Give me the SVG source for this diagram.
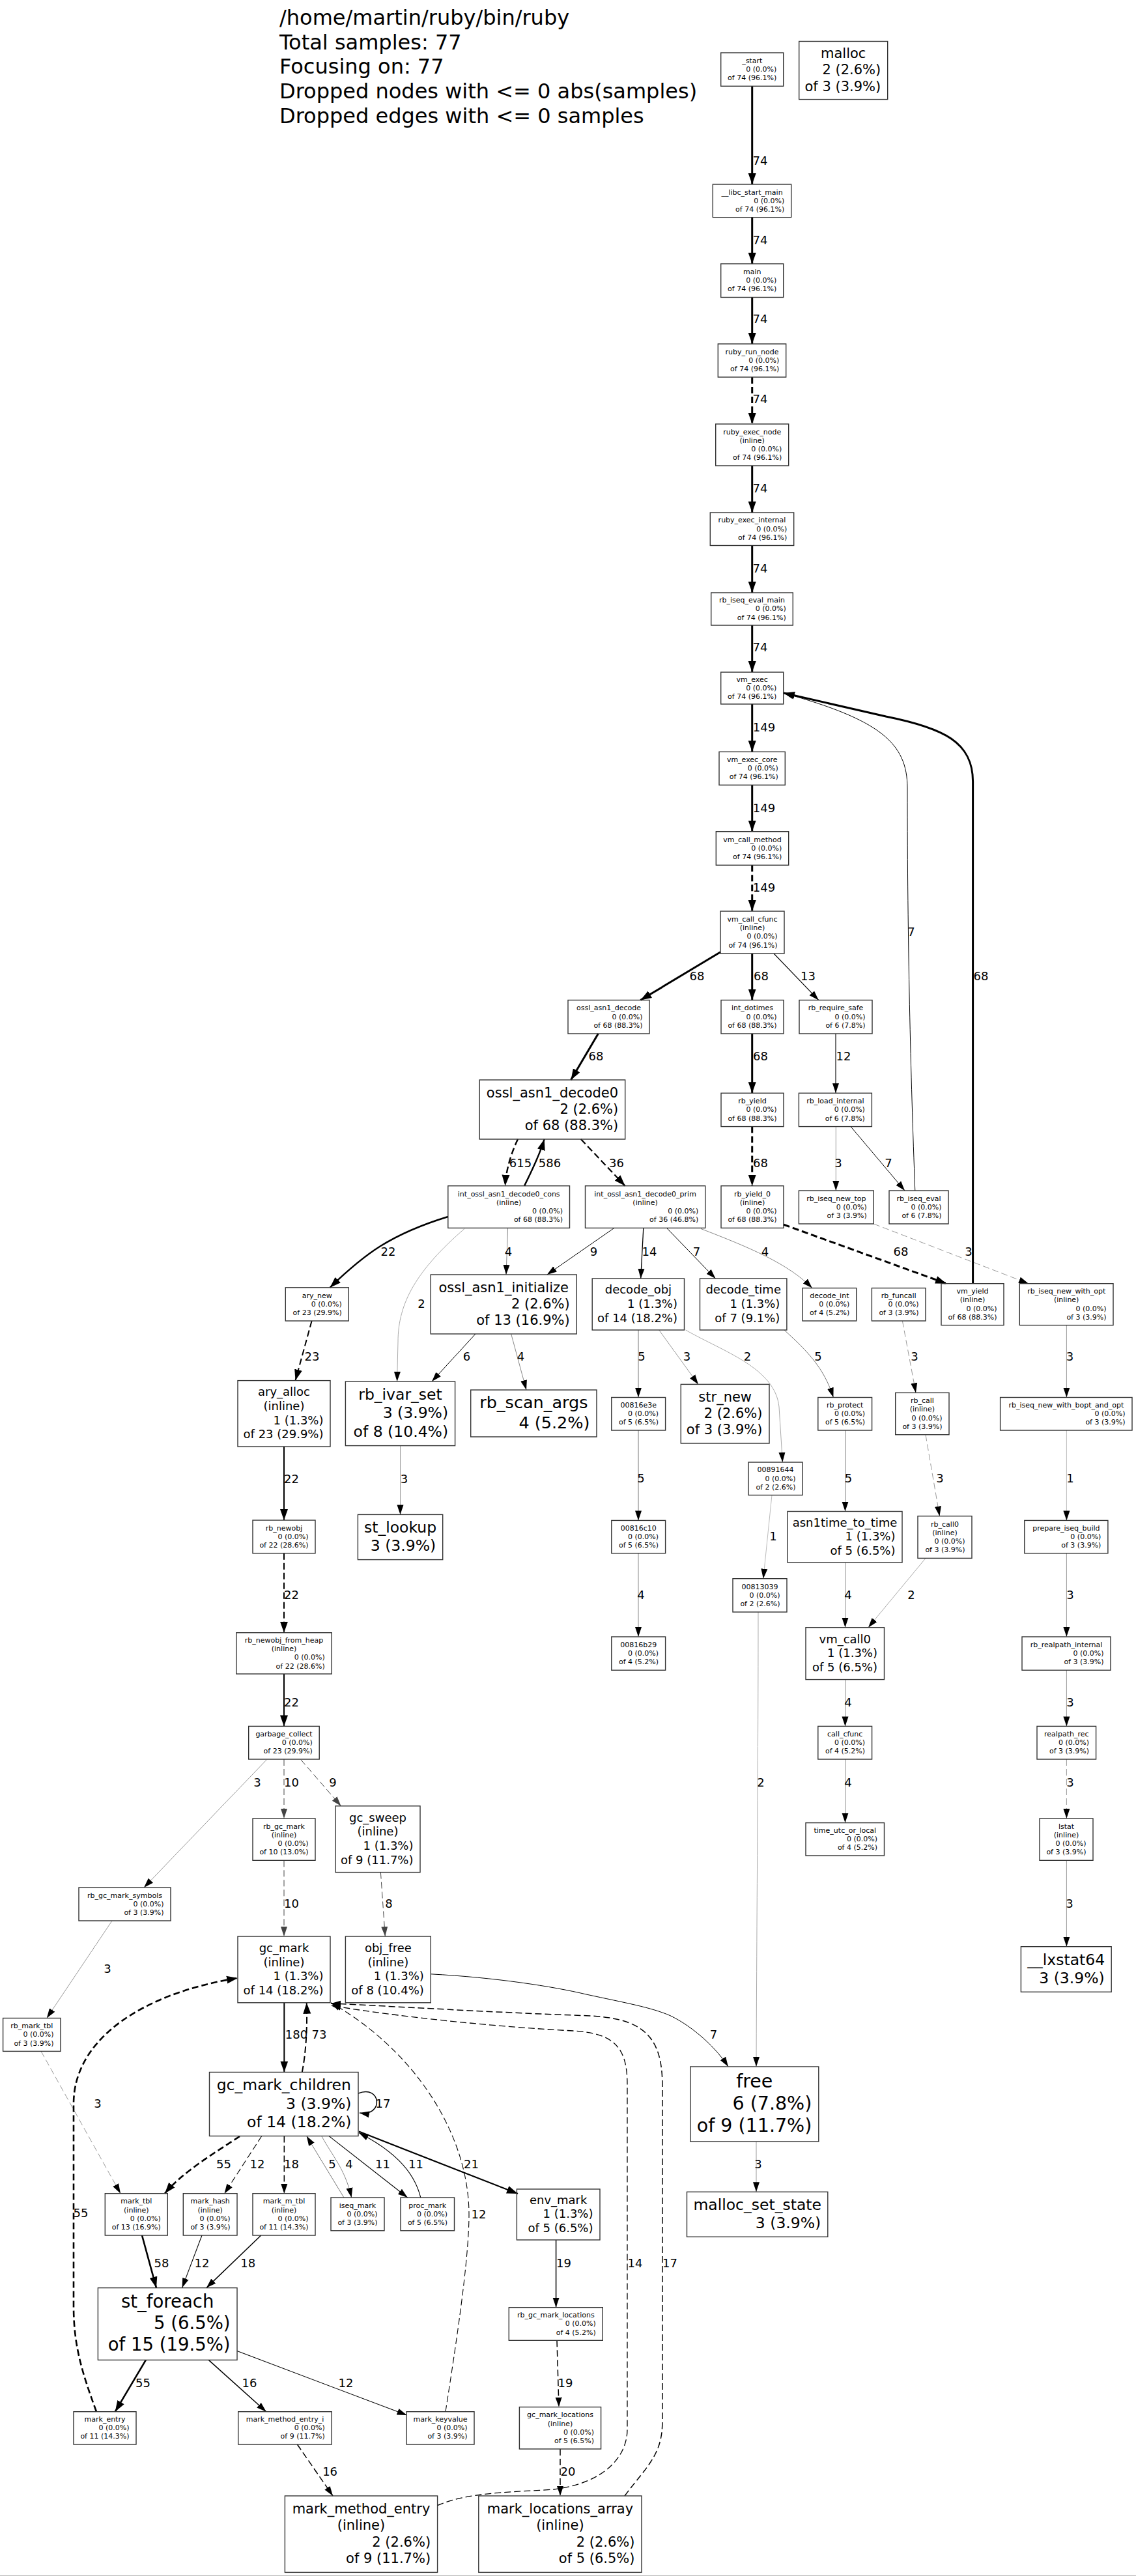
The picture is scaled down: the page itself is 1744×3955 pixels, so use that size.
<svg xmlns="http://www.w3.org/2000/svg" width="1744" height="3955" viewBox="0 0 1744 3955">
<style>
text{font-family:"DejaVu Sans",Verdana,sans-serif;fill:#000}
.n rect{fill:none;stroke:#333;stroke-width:1.4}
.f0{font-size:11px}.f1{font-size:18px}.f2{font-size:21px}.f3{font-size:23.5px}.f4{font-size:25.5px}.f5{font-size:27.5px}.f6{font-size:28.5px}
.c{text-anchor:middle}.r{text-anchor:end}
.lg{font-size:32px}
.el{font-size:18px;text-anchor:middle}
#edges path{fill:none}
.d{stroke-dasharray:10,5}
</style>
<defs>
<marker id="mB" markerUnits="userSpaceOnUse" viewBox="0 0 18 14" markerWidth="18" markerHeight="14" refX="17" refY="7" orient="auto"><path d="M0,1L17,7L0,13z" fill="#000"/></marker>
<marker id="mK" markerUnits="userSpaceOnUse" viewBox="0 0 16 12" markerWidth="16" markerHeight="12" refX="15" refY="6" orient="auto"><path d="M0,1L15,6L0,11z" fill="#000"/></marker>
<marker id="m4" markerUnits="userSpaceOnUse" viewBox="0 0 16 12" markerWidth="16" markerHeight="12" refX="15" refY="6" orient="auto"><path d="M0,1L15,6L0,11z" fill="#444"/></marker>
<marker id="m7" markerUnits="userSpaceOnUse" viewBox="0 0 16 12" markerWidth="16" markerHeight="12" refX="15" refY="6" orient="auto"><path d="M0,1L15,6L0,11z" fill="#000"/></marker>
<marker id="m8" markerUnits="userSpaceOnUse" viewBox="0 0 16 12" markerWidth="16" markerHeight="12" refX="15" refY="6" orient="auto"><path d="M0,1L15,6L0,11z" fill="#000"/></marker>
<marker id="m9" markerUnits="userSpaceOnUse" viewBox="0 0 16 12" markerWidth="16" markerHeight="12" refX="15" refY="6" orient="auto"><path d="M0,1L15,6L0,11z" fill="#000"/></marker>
</defs>
<rect width="1744" height="3955" fill="#fff"/>
<line x1="0" y1="3954.5" x2="1744" y2="3954.5" stroke="#bbb" stroke-width="1"/>
<g id="legend">
<text class="lg" x="429" y="38">/home/martin/ruby/bin/ruby</text>
<text class="lg" x="429" y="75.7">Total samples: 77</text>
<text class="lg" x="429" y="113.4">Focusing on: 77</text>
<text class="lg" x="429" y="151.1">Dropped nodes with &lt;= 0 abs(samples)</text>
<text class="lg" x="429" y="188.8">Dropped edges with &lt;= 0 samples</text>
</g>
<g id="edges">
<path d="M1154.7,132.3V283" stroke="#000" stroke-width="3" marker-end="url(#mB)"/>
<path d="M1154.7,333.7V405" stroke="#000" stroke-width="3" marker-end="url(#mB)"/>
<path d="M1154.7,456.5V528" stroke="#000" stroke-width="3" marker-end="url(#mB)"/>
<path class="d" d="M1154.7,579V651" stroke="#000" stroke-width="3" marker-end="url(#mB)"/>
<path d="M1154.7,715V787" stroke="#000" stroke-width="3" marker-end="url(#mB)"/>
<path d="M1154.7,837.5V910" stroke="#000" stroke-width="3" marker-end="url(#mB)"/>
<path d="M1154.7,960V1032" stroke="#000" stroke-width="3" marker-end="url(#mB)"/>
<path d="M1154.7,1081V1154.3" stroke="#000" stroke-width="3" marker-end="url(#mB)"/>
<path d="M1154.7,1205.3V1276.7" stroke="#000" stroke-width="3" marker-end="url(#mB)"/>
<path class="d" d="M1154.7,1328.3V1399" stroke="#000" stroke-width="3" marker-end="url(#mB)"/>
<path d="M1106,1461.7L983.3,1535.5" stroke="#000" stroke-width="3" marker-end="url(#mB)"/>
<path d="M1154.7,1464V1535.5" stroke="#000" stroke-width="3" marker-end="url(#mB)"/>
<path d="M1188,1464L1256.7,1535.5" stroke="#000" stroke-width="1.1" marker-end="url(#mK)"/>
<path d="M1493.6,1970.7V1200C1493.6,1140 1450,1118 1360,1100L1203,1064" stroke="#000" stroke-width="3" marker-end="url(#mB)"/>
<path d="M1404.8,1828C1398,1650 1393,1450 1393,1210C1393,1140 1350,1105 1203,1064" stroke="#000" stroke-width="1" marker-end="url(#mK)"/>
<path d="M918.4,1587L876.5,1658" stroke="#000" stroke-width="3" marker-end="url(#mB)"/>
<path d="M1154.7,1587V1678.3" stroke="#000" stroke-width="3" marker-end="url(#mB)"/>
<path d="M1283,1587V1678.3" stroke="#000" stroke-width="1.1" marker-end="url(#mK)"/>
<path class="d" d="M795,1749C785,1770 777,1795 775.5,1820.7" stroke="#000" stroke-width="2.4" marker-end="url(#mB)"/>
<path d="M805,1820.7C815,1800 828,1775 835.7,1749" stroke="#000" stroke-width="2.4" marker-end="url(#mB)"/>
<path class="d" d="M891.8,1749L959.7,1820.7" stroke="#000" stroke-width="2.2" marker-end="url(#mB)"/>
<path class="d" d="M1154.7,1729.6V1820.7" stroke="#000" stroke-width="3" marker-end="url(#mB)"/>
<path d="M1283.3,1729.6V1828" stroke="#999" stroke-width="1" marker-end="url(#m9)"/>
<path d="M1306,1729.6L1389,1828" stroke="#000" stroke-width="1" marker-end="url(#mK)"/>
<path class="d" d="M1202.7,1880L1453,1970.7" stroke="#000" stroke-width="3" marker-end="url(#mB)"/>
<path class="d" d="M1341.2,1879L1579,1970.7" stroke="#999" stroke-width="1" marker-end="url(#m9)"/>
<path d="M687.8,1868C600,1895 560,1925 506.6,1976.8" stroke="#000" stroke-width="2.4" marker-end="url(#mB)"/>
<path d="M779.6,1885.4L777,1957" stroke="#888" stroke-width="1" marker-end="url(#m8)"/>
<path d="M942.9,1885.4L839.8,1957" stroke="#000" stroke-width="1" marker-end="url(#mK)"/>
<path d="M713,1886.5C640,1950 611,2000 611,2060L609.6,2121" stroke="#aaa" stroke-width="1" marker-end="url(#m9)"/>
<path d="M987.8,1885.4L983.7,1963" stroke="#000" stroke-width="1.3" marker-end="url(#mK)"/>
<path d="M1023.5,1885.4L1098.5,1963" stroke="#000" stroke-width="1" marker-end="url(#mK)"/>
<path d="M1076,1886.5C1150,1915 1210,1940 1246.8,1977.6" stroke="#888" stroke-width="1" marker-end="url(#m8)"/>
<path class="d" d="M478.6,2028L453.5,2119.6" stroke="#000" stroke-width="2" marker-end="url(#mB)"/>
<path d="M730,2048L663,2121" stroke="#000" stroke-width="1" marker-end="url(#mK)"/>
<path d="M784.7,2048L808,2134" stroke="#888" stroke-width="1" marker-end="url(#m8)"/>
<path d="M980,2042V2145.5" stroke="#777" stroke-width="1" marker-end="url(#m7)"/>
<path d="M1011.7,2042L1072,2125.4" stroke="#999" stroke-width="1" marker-end="url(#m9)"/>
<path d="M1052.6,2042C1110,2075 1190,2100 1196,2160L1201.4,2245" stroke="#aaa" stroke-width="1" marker-end="url(#m9)"/>
<path d="M1204,2042C1240,2075 1265,2100 1279.4,2145.5" stroke="#777" stroke-width="1" marker-end="url(#m7)"/>
<path class="d" d="M1385.4,2028L1406,2138.4" stroke="#999" stroke-width="1" marker-end="url(#m9)"/>
<path d="M1637.4,2034.6V2145.5" stroke="#999" stroke-width="1" marker-end="url(#m9)"/>
<path d="M436,2221V2334" stroke="#000" stroke-width="2" marker-end="url(#mB)"/>
<path d="M614.5,2219.6V2325.4" stroke="#999" stroke-width="1" marker-end="url(#m9)"/>
<path d="M980,2196V2334.4" stroke="#777" stroke-width="1" marker-end="url(#m7)"/>
<path d="M1297.5,2196V2320.5" stroke="#777" stroke-width="1" marker-end="url(#m7)"/>
<path class="d" d="M1421,2202.7L1442.5,2327.7" stroke="#999" stroke-width="1" marker-end="url(#m9)"/>
<path d="M1637.4,2196V2334.4" stroke="#bbb" stroke-width="1" marker-end="url(#m9)"/>
<path d="M1185,2295.5L1171.8,2423.7" stroke="#bbb" stroke-width="1" marker-end="url(#m9)"/>
<path class="d" d="M436,2384.8V2506.7" stroke="#000" stroke-width="2" marker-end="url(#mB)"/>
<path d="M980,2384.8V2513" stroke="#888" stroke-width="1" marker-end="url(#m8)"/>
<path d="M1297.5,2399V2498.7" stroke="#888" stroke-width="1" marker-end="url(#m8)"/>
<path d="M1421,2392.4L1333,2498.7" stroke="#aaa" stroke-width="1" marker-end="url(#m9)"/>
<path d="M1637.4,2384.8V2513" stroke="#999" stroke-width="1" marker-end="url(#m9)"/>
<path d="M436,2570V2650.4" stroke="#000" stroke-width="2" marker-end="url(#mB)"/>
<path d="M1297.5,2578.6V2650.4" stroke="#888" stroke-width="1" marker-end="url(#m8)"/>
<path d="M1637.4,2564.3V2650.4" stroke="#999" stroke-width="1" marker-end="url(#m9)"/>
<path d="M1164,2475C1164,2700 1162,2900 1161,3173" stroke="#aaa" stroke-width="1" marker-end="url(#m9)"/>
<path d="M409.3,2701.8L221,2898" stroke="#999" stroke-width="1" marker-end="url(#m9)"/>
<path class="d" d="M436,2701V2792" stroke="#444" stroke-width="1" marker-end="url(#m4)"/>
<path class="d" d="M462,2701.8L523.5,2772.8" stroke="#444" stroke-width="1" marker-end="url(#m4)"/>
<path d="M1297.5,2701V2798.6" stroke="#888" stroke-width="1" marker-end="url(#m8)"/>
<path class="d" d="M1637.4,2701V2792" stroke="#999" stroke-width="1" marker-end="url(#m9)"/>
<path class="d" d="M436,2856.3V2973" stroke="#444" stroke-width="1" marker-end="url(#m4)"/>
<path class="d" d="M584.4,2874.6L591.3,2973" stroke="#444" stroke-width="1" marker-end="url(#m4)"/>
<path d="M1637.4,2856.3V2988.7" stroke="#999" stroke-width="1" marker-end="url(#m9)"/>
<path d="M172,2949L71.8,3098.5" stroke="#999" stroke-width="1" marker-end="url(#m9)"/>
<path d="M436.3,3074.8V3181.5" stroke="#000" stroke-width="2" marker-end="url(#mB)"/>
<path class="d" d="M463.8,3181.5C470,3150 472,3110 470.7,3074.8" stroke="#000" stroke-width="2" marker-end="url(#mB)"/>
<path d="M661.3,3030.8C760,3036 850,3050 900,3062C960,3075 1000,3082 1029,3094.7C1065,3112 1100,3145 1118,3173" stroke="#000" stroke-width="1" marker-end="url(#mK)"/>
<path class="d" d="M63,3149.4L185,3367.7" stroke="#999" stroke-width="1" marker-end="url(#m9)"/>
<path d="M550,3214C585,3200 590,3250 552,3244" stroke="#000" stroke-width="1.5" marker-end="url(#mK)"/>
<path class="d" d="M368,3280C330,3305 280,3335 253,3367.7" stroke="#000" stroke-width="2.6" marker-end="url(#mB)"/>
<path class="d" d="M401.8,3279.5L344.4,3368" stroke="#000" stroke-width="1.1" marker-end="url(#mK)"/>
<path class="d" d="M436.3,3279.5V3368" stroke="#000" stroke-width="1.5" marker-end="url(#mK)"/>
<path d="M528,3374L470.7,3279.5" stroke="#777" stroke-width="1" marker-end="url(#m7)"/>
<path d="M493.7,3279.5C510,3310 530,3330 539.6,3374" stroke="#888" stroke-width="1" marker-end="url(#m8)"/>
<path d="M505,3279.5L625.7,3374" stroke="#000" stroke-width="1.1" marker-end="url(#mK)"/>
<path d="M645.8,3374C635,3330 600,3300 551,3274.6" stroke="#000" stroke-width="1.1" marker-end="url(#mK)"/>
<path d="M551,3272.6L795,3368" stroke="#000" stroke-width="2.2" marker-end="url(#mB)"/>
<path class="d" d="M148,3702.7C125,3640 113,3600 113,3540L113,3230C113,3130 220,3060 365,3037" stroke="#000" stroke-width="2.6" marker-end="url(#mB)"/>
<path class="d" d="M684,3702.7C700,3600 720,3470 720,3400C720,3280 640,3150 508,3074.8" stroke="#000" stroke-width="1.1" marker-end="url(#mK)"/>
<path class="d" d="M671.6,3846.7C720,3825 800,3826 850,3822C930,3812 963,3770 963,3730L963,3200C963,3140 940,3122 880,3118C760,3112 600,3095 508,3079" stroke="#000" stroke-width="1.3" marker-end="url(#mK)"/>
<path class="d" d="M959,3832C990,3790 1016.8,3770 1016.8,3720L1016.8,3200C1016.8,3120 980,3098 900,3094.7C760,3090 600,3080 508,3076" stroke="#000" stroke-width="1.5" marker-end="url(#mK)"/>
<path d="M1161,3288V3365.3" stroke="#999" stroke-width="1" marker-end="url(#m9)"/>
<path d="M853.6,3439V3542.7" stroke="#000" stroke-width="1.5" marker-end="url(#mK)"/>
<path class="d" d="M855,3593.3L858,3695.6" stroke="#000" stroke-width="1.5" marker-end="url(#mK)"/>
<path class="d" d="M860,3760V3832" stroke="#000" stroke-width="1.5" marker-end="url(#mK)"/>
<path d="M218,3432L240,3512.6" stroke="#000" stroke-width="2.6" marker-end="url(#mB)"/>
<path d="M310,3432L279.6,3512.6" stroke="#000" stroke-width="1.1" marker-end="url(#mK)"/>
<path d="M400.7,3432L316.9,3512.6" stroke="#000" stroke-width="1.5" marker-end="url(#mK)"/>
<path d="M223.9,3623.4L176.8,3702.7" stroke="#000" stroke-width="2.6" marker-end="url(#mB)"/>
<path d="M320.3,3623.4L408.7,3702.7" stroke="#000" stroke-width="1.5" marker-end="url(#mK)"/>
<path d="M364,3609.6L624.6,3708" stroke="#000" stroke-width="1.1" marker-end="url(#mK)"/>
<path class="d" d="M456.4,3753L511,3832" stroke="#000" stroke-width="1.5" marker-end="url(#mK)"/>
<g id="edge-labels">
<text class="el" x="1167" y="252.5">74</text>
<text class="el" x="1167" y="375">74</text>
<text class="el" x="1167" y="496">74</text>
<text class="el" x="1167" y="618.5">74</text>
<text class="el" x="1167" y="755.5">74</text>
<text class="el" x="1167" y="878.5">74</text>
<text class="el" x="1167" y="999.5">74</text>
<text class="el" x="1173" y="1123">149</text>
<text class="el" x="1173" y="1246.5">149</text>
<text class="el" x="1173" y="1369">149</text>
<text class="el" x="1070" y="1505">68</text>
<text class="el" x="1168.5" y="1505">68</text>
<text class="el" x="1240.5" y="1505">13</text>
<text class="el" x="1506" y="1505">68</text>
<text class="el" x="1399" y="1436.5">7</text>
<text class="el" x="915" y="1628">68</text>
<text class="el" x="1167.5" y="1628">68</text>
<text class="el" x="1295" y="1628">12</text>
<text class="el" x="799" y="1791.5">615</text>
<text class="el" x="844" y="1791.5">586</text>
<text class="el" x="946.5" y="1791.5">36</text>
<text class="el" x="1167.5" y="1791.5">68</text>
<text class="el" x="1287" y="1791.5">3</text>
<text class="el" x="1364" y="1791.5">7</text>
<text class="el" x="1383" y="1927.5">68</text>
<text class="el" x="1487" y="1927.5">3</text>
<text class="el" x="596" y="1927.5">22</text>
<text class="el" x="780.6" y="1927.5">4</text>
<text class="el" x="911.5" y="1927.5">9</text>
<text class="el" x="647" y="2008">2</text>
<text class="el" x="997" y="1927.5">14</text>
<text class="el" x="1069.5" y="1927.5">7</text>
<text class="el" x="1174.5" y="1927.5">4</text>
<text class="el" x="479" y="2089">23</text>
<text class="el" x="716.5" y="2089">6</text>
<text class="el" x="799.5" y="2089">4</text>
<text class="el" x="985" y="2089">5</text>
<text class="el" x="1054.6" y="2089">3</text>
<text class="el" x="1147.5" y="2089">2</text>
<text class="el" x="1256" y="2089">5</text>
<text class="el" x="1404" y="2089">3</text>
<text class="el" x="1642.5" y="2089">3</text>
<text class="el" x="447.5" y="2276.5">22</text>
<text class="el" x="620.5" y="2276.5">3</text>
<text class="el" x="984" y="2276">5</text>
<text class="el" x="1302.5" y="2276">5</text>
<text class="el" x="1443" y="2276">3</text>
<text class="el" x="1643" y="2276">1</text>
<text class="el" x="1187" y="2364.5">1</text>
<text class="el" x="447.5" y="2454.5">22</text>
<text class="el" x="984" y="2454.5">4</text>
<text class="el" x="1302" y="2454.5">4</text>
<text class="el" x="1399" y="2454.5">2</text>
<text class="el" x="1643" y="2454.5">3</text>
<text class="el" x="447.5" y="2619.5">22</text>
<text class="el" x="1302" y="2619.5">4</text>
<text class="el" x="1643" y="2619.5">3</text>
<text class="el" x="1168" y="2742.5">2</text>
<text class="el" x="395" y="2742.5">3</text>
<text class="el" x="447.5" y="2742.5">10</text>
<text class="el" x="511" y="2742.5">9</text>
<text class="el" x="1302" y="2742.5">4</text>
<text class="el" x="1643" y="2742.5">3</text>
<text class="el" x="447.5" y="2929">10</text>
<text class="el" x="597" y="2929">8</text>
<text class="el" x="1642" y="2929">3</text>
<text class="el" x="165" y="3028.5">3</text>
<text class="el" x="455" y="3130">180</text>
<text class="el" x="490" y="3130">73</text>
<text class="el" x="1095.5" y="3130">7</text>
<text class="el" x="150" y="3236">3</text>
<text class="el" x="588" y="3236">17</text>
<text class="el" x="343.5" y="3329">55</text>
<text class="el" x="395" y="3329">12</text>
<text class="el" x="447.5" y="3329">18</text>
<text class="el" x="510" y="3329">5</text>
<text class="el" x="536" y="3329">4</text>
<text class="el" x="587.5" y="3329">11</text>
<text class="el" x="638.5" y="3329">11</text>
<text class="el" x="723.5" y="3329">21</text>
<text class="el" x="124" y="3404">55</text>
<text class="el" x="735" y="3406">12</text>
<text class="el" x="975" y="3480.5">14</text>
<text class="el" x="1028.5" y="3480.5">17</text>
<text class="el" x="1164" y="3329">3</text>
<text class="el" x="865.5" y="3480.5">19</text>
<text class="el" x="868" y="3665">19</text>
<text class="el" x="872" y="3801">20</text>
<text class="el" x="248" y="3480.5">58</text>
<text class="el" x="310" y="3480.5">12</text>
<text class="el" x="380.7" y="3480.5">18</text>
<text class="el" x="219.5" y="3665">55</text>
<text class="el" x="383" y="3665">16</text>
<text class="el" x="531" y="3665">12</text>
<text class="el" x="506.6" y="3801">16</text>
</g>
</g>
<g id="nodes">
<g id="n_start" class="n"><rect x="1106.7" y="81" width="96" height="51.3"/><text class="f0 c" x="1154.7" y="96.8">_start</text><text class="f0 r" x="1192.2" y="110">0 (0.0%)</text><text class="f0 r" x="1192.2" y="123.2">of 74 (96.1%)</text></g>
<g id="n_malloc" class="n"><rect x="1226.7" y="63.5" width="136" height="89.1"/><text class="f2 c" x="1294.7" y="89.2">malloc</text><text class="f2 r" x="1352.2" y="114.4">2 (2.6%)</text><text class="f2 r" x="1352.2" y="139.6">of 3 (3.9%)</text></g>
<g id="n_libc" class="n"><rect x="1094.3" y="283" width="120.4" height="50.7"/><text class="f0 c" x="1154.5" y="298.5">__libc_start_main</text><text class="f0 r" x="1204.2" y="311.7">0 (0.0%)</text><text class="f0 r" x="1204.2" y="324.9">of 74 (96.1%)</text></g>
<g id="n_main" class="n"><rect x="1106.7" y="405" width="96" height="51.5"/><text class="f0 c" x="1154.7" y="420.9">main</text><text class="f0 r" x="1192.2" y="434.1">0 (0.0%)</text><text class="f0 r" x="1192.2" y="447.3">of 74 (96.1%)</text></g>
<g id="n_ruby_run_node" class="n"><rect x="1102.3" y="528" width="104.4" height="51"/><text class="f0 c" x="1154.5" y="543.6">ruby_run_node</text><text class="f0 r" x="1196.2" y="556.8">0 (0.0%)</text><text class="f0 r" x="1196.2" y="570">of 74 (96.1%)</text></g>
<g id="n_ruby_exec_node" class="n"><rect x="1098.7" y="651" width="112" height="64"/><text class="f0 c" x="1154.7" y="666.5">ruby_exec_node</text><text class="f0 c" x="1154.7" y="679.7">(inline)</text><text class="f0 r" x="1200.2" y="692.9">0 (0.0%)</text><text class="f0 r" x="1200.2" y="706.1">of 74 (96.1%)</text></g>
<g id="n_ruby_exec_internal" class="n"><rect x="1090.3" y="787" width="128.4" height="50.5"/><text class="f0 c" x="1154.5" y="802.4">ruby_exec_internal</text><text class="f0 r" x="1208.2" y="815.6">0 (0.0%)</text><text class="f0 r" x="1208.2" y="828.8">of 74 (96.1%)</text></g>
<g id="n_rb_iseq_eval_main" class="n"><rect x="1091.7" y="910" width="125.6" height="50"/><text class="f0 c" x="1154.5" y="925.1">rb_iseq_eval_main</text><text class="f0 r" x="1206.8" y="938.3">0 (0.0%)</text><text class="f0 r" x="1206.8" y="951.5">of 74 (96.1%)</text></g>
<g id="n_vm_exec" class="n"><rect x="1106.7" y="1032" width="96" height="49"/><text class="f0 c" x="1154.7" y="1046.6">vm_exec</text><text class="f0 r" x="1192.2" y="1059.8">0 (0.0%)</text><text class="f0 r" x="1192.2" y="1073">of 74 (96.1%)</text></g>
<g id="n_vm_exec_core" class="n"><rect x="1104" y="1154.3" width="101.3" height="51"/><text class="f0 c" x="1154.7" y="1169.9">vm_exec_core</text><text class="f0 r" x="1194.8" y="1183.1">0 (0.0%)</text><text class="f0 r" x="1194.8" y="1196.3">of 74 (96.1%)</text></g>
<g id="n_vm_call_method" class="n"><rect x="1099.3" y="1276.7" width="111.4" height="51.6"/><text class="f0 c" x="1155" y="1292.6">vm_call_method</text><text class="f0 r" x="1200.2" y="1305.8">0 (0.0%)</text><text class="f0 r" x="1200.2" y="1319">of 74 (96.1%)</text></g>
<g id="n_vm_call_cfunc" class="n"><rect x="1106" y="1399" width="98" height="65"/><text class="f0 c" x="1155" y="1415">vm_call_cfunc</text><text class="f0 c" x="1155" y="1428.2">(inline)</text><text class="f0 r" x="1193.5" y="1441.4">0 (0.0%)</text><text class="f0 r" x="1193.5" y="1454.6">of 74 (96.1%)</text></g>
<g id="n_ossl_asn1_decode" class="n"><rect x="872" y="1535.5" width="125" height="51.5"/><text class="f0 c" x="934.5" y="1551.4">ossl_asn1_decode</text><text class="f0 r" x="986.5" y="1564.6">0 (0.0%)</text><text class="f0 r" x="986.5" y="1577.8">of 68 (88.3%)</text></g>
<g id="n_int_dotimes" class="n"><rect x="1107" y="1535.5" width="96" height="51.5"/><text class="f0 c" x="1155" y="1551.4">int_dotimes</text><text class="f0 r" x="1192.5" y="1564.6">0 (0.0%)</text><text class="f0 r" x="1192.5" y="1577.8">of 68 (88.3%)</text></g>
<g id="n_rb_require_safe" class="n"><rect x="1227" y="1535.5" width="112" height="51.5"/><text class="f0 c" x="1283" y="1551.4">rb_require_safe</text><text class="f0 r" x="1328.5" y="1564.6">0 (0.0%)</text><text class="f0 r" x="1328.5" y="1577.8">of 6 (7.8%)</text></g>
<g id="n_ossl_asn1_decode0" class="n"><rect x="736.2" y="1658" width="223.5" height="91"/><text class="f2 c" x="848" y="1684.6">ossl_asn1_decode0</text><text class="f2 r" x="949.2" y="1709.8">2 (2.6%)</text><text class="f2 r" x="949.2" y="1735">of 68 (88.3%)</text></g>
<g id="n_rb_yield" class="n"><rect x="1107" y="1678.3" width="96" height="51.3"/><text class="f0 c" x="1155" y="1694.1">rb_yield</text><text class="f0 r" x="1192.5" y="1707.3">0 (0.0%)</text><text class="f0 r" x="1192.5" y="1720.5">of 68 (88.3%)</text></g>
<g id="n_rb_load_internal" class="n"><rect x="1226.4" y="1678.3" width="112" height="51.3"/><text class="f0 c" x="1282.4" y="1694.1">rb_load_internal</text><text class="f0 r" x="1327.9" y="1707.3">0 (0.0%)</text><text class="f0 r" x="1327.9" y="1720.5">of 6 (7.8%)</text></g>
<g id="n_decode0_cons" class="n"><rect x="687.8" y="1820.7" width="186.7" height="64.7"/><text class="f0 c" x="781.2" y="1836.6">int_ossl_asn1_decode0_cons</text><text class="f0 c" x="781.2" y="1849.8">(inline)</text><text class="f0 r" x="864" y="1863">0 (0.0%)</text><text class="f0 r" x="864" y="1876.2">of 68 (88.3%)</text></g>
<g id="n_decode0_prim" class="n"><rect x="898.5" y="1820.7" width="184.2" height="64.7"/><text class="f0 c" x="990.6" y="1836.6">int_ossl_asn1_decode0_prim</text><text class="f0 c" x="990.6" y="1849.8">(inline)</text><text class="f0 r" x="1072.2" y="1863">0 (0.0%)</text><text class="f0 r" x="1072.2" y="1876.2">of 36 (46.8%)</text></g>
<g id="n_rb_yield_0" class="n"><rect x="1107" y="1820.7" width="96" height="64.7"/><text class="f0 c" x="1155" y="1836.6">rb_yield_0</text><text class="f0 c" x="1155" y="1849.8">(inline)</text><text class="f0 r" x="1192.5" y="1863">0 (0.0%)</text><text class="f0 r" x="1192.5" y="1876.2">of 68 (88.3%)</text></g>
<g id="n_rb_iseq_new_top" class="n"><rect x="1226.4" y="1828" width="114.8" height="51"/><text class="f0 c" x="1283.8" y="1843.6">rb_iseq_new_top</text><text class="f0 r" x="1330.7" y="1856.8">0 (0.0%)</text><text class="f0 r" x="1330.7" y="1870">of 3 (3.9%)</text></g>
<g id="n_rb_iseq_eval" class="n"><rect x="1365" y="1828" width="91" height="51"/><text class="f0 c" x="1410.5" y="1843.6">rb_iseq_eval</text><text class="f0 r" x="1445.5" y="1856.8">0 (0.0%)</text><text class="f0 r" x="1445.5" y="1870">of 6 (7.8%)</text></g>
<g id="n_ary_new" class="n"><rect x="438.3" y="1976.8" width="96.9" height="51.2"/><text class="f0 c" x="486.8" y="1992.5">ary_new</text><text class="f0 r" x="524.7" y="2005.7">0 (0.0%)</text><text class="f0 r" x="524.7" y="2018.9">of 23 (29.9%)</text></g>
<g id="n_ossl_asn1_initialize" class="n"><rect x="661.2" y="1957" width="224" height="91"/><text class="f2 c" x="773.2" y="1983.6">ossl_asn1_initialize</text><text class="f2 r" x="874.7" y="2008.8">2 (2.6%)</text><text class="f2 r" x="874.7" y="2034">of 13 (16.9%)</text></g>
<g id="n_decode_obj" class="n"><rect x="909.2" y="1963" width="141.3" height="79"/><text class="f1 c" x="979.9" y="1986.3">decode_obj</text><text class="f1 r" x="1040" y="2007.9">1 (1.3%)</text><text class="f1 r" x="1040" y="2029.5">of 14 (18.2%)</text></g>
<g id="n_decode_time" class="n"><rect x="1074.5" y="1963" width="133.4" height="79"/><text class="f1 c" x="1141.2" y="1986.3">decode_time</text><text class="f1 r" x="1197.4" y="2007.9">1 (1.3%)</text><text class="f1 r" x="1197.4" y="2029.5">of 7 (9.1%)</text></g>
<g id="n_decode_int" class="n"><rect x="1232" y="1977.6" width="82.7" height="50.4"/><text class="f0 c" x="1273.4" y="1992.9">decode_int</text><text class="f0 r" x="1304.2" y="2006.1">0 (0.0%)</text><text class="f0 r" x="1304.2" y="2019.3">of 4 (5.2%)</text></g>
<g id="n_rb_funcall" class="n"><rect x="1338.4" y="1977.6" width="82.6" height="50.4"/><text class="f0 c" x="1379.7" y="1992.9">rb_funcall</text><text class="f0 r" x="1410.5" y="2006.1">0 (0.0%)</text><text class="f0 r" x="1410.5" y="2019.3">of 3 (3.9%)</text></g>
<g id="n_vm_yield" class="n"><rect x="1445" y="1970.7" width="96" height="63.9"/><text class="f0 c" x="1493" y="1986.2">vm_yield</text><text class="f0 c" x="1493" y="1999.4">(inline)</text><text class="f0 r" x="1530.5" y="2012.6">0 (0.0%)</text><text class="f0 r" x="1530.5" y="2025.8">of 68 (88.3%)</text></g>
<g id="n_rb_iseq_new_with_opt" class="n"><rect x="1565.3" y="1970.7" width="143.7" height="63.9"/><text class="f0 c" x="1637.2" y="1986.2">rb_iseq_new_with_opt</text><text class="f0 c" x="1637.2" y="1999.4">(inline)</text><text class="f0 r" x="1698.5" y="2012.6">0 (0.0%)</text><text class="f0 r" x="1698.5" y="2025.8">of 3 (3.9%)</text></g>
<g id="n_ary_alloc" class="n"><rect x="365" y="2119.6" width="142" height="101.4"/><text class="f1 c" x="436" y="2143.3">ary_alloc</text><text class="f1 c" x="436" y="2164.9">(inline)</text><text class="f1 r" x="496.5" y="2186.5">1 (1.3%)</text><text class="f1 r" x="496.5" y="2208.1">of 23 (29.9%)</text></g>
<g id="n_rb_ivar_set" class="n"><rect x="530.4" y="2121" width="168.2" height="98.6"/><text class="f3 c" x="614.5" y="2149.2">rb_ivar_set</text><text class="f3 r" x="688.1" y="2177.4">3 (3.9%)</text><text class="f3 r" x="688.1" y="2205.6">of 8 (10.4%)</text></g>
<g id="n_rb_scan_args" class="n"><rect x="722.7" y="2134" width="193.3" height="72"/><text class="f4 c" x="819.4" y="2162.4">rb_scan_args</text><text class="f4 r" x="905.5" y="2193">4 (5.2%)</text></g>
<g id="n_00816e3e" class="n"><rect x="938.8" y="2145.5" width="82.8" height="50.5"/><text class="f0 c" x="980.2" y="2160.9">00816e3e</text><text class="f0 r" x="1011.1" y="2174.1">0 (0.0%)</text><text class="f0 r" x="1011.1" y="2187.3">of 5 (6.5%)</text></g>
<g id="n_str_new" class="n"><rect x="1045.3" y="2125.4" width="135.7" height="90.6"/><text class="f2 c" x="1113.2" y="2151.8">str_new</text><text class="f2 r" x="1170.5" y="2177">2 (2.6%)</text><text class="f2 r" x="1170.5" y="2202.2">of 3 (3.9%)</text></g>
<g id="n_rb_protect" class="n"><rect x="1255.8" y="2145.5" width="82.8" height="50.5"/><text class="f0 c" x="1297.2" y="2160.9">rb_protect</text><text class="f0 r" x="1328.1" y="2174.1">0 (0.0%)</text><text class="f0 r" x="1328.1" y="2187.3">of 5 (6.5%)</text></g>
<g id="n_rb_call" class="n"><rect x="1374.7" y="2138.4" width="82.3" height="64.3"/><text class="f0 c" x="1415.9" y="2154.1">rb_call</text><text class="f0 c" x="1415.9" y="2167.3">(inline)</text><text class="f0 r" x="1446.5" y="2180.5">0 (0.0%)</text><text class="f0 r" x="1446.5" y="2193.7">of 3 (3.9%)</text></g>
<g id="n_rb_iseq_new_with_bopt_and_opt" class="n"><rect x="1535.6" y="2145.5" width="202.4" height="50.5"/><text class="f0 c" x="1636.8" y="2160.9">rb_iseq_new_with_bopt_and_opt</text><text class="f0 r" x="1727.5" y="2174.1">0 (0.0%)</text><text class="f0 r" x="1727.5" y="2187.3">of 3 (3.9%)</text></g>
<g id="n_00891644" class="n"><rect x="1149" y="2245" width="83" height="50.5"/><text class="f0 c" x="1190.5" y="2260.4">00891644</text><text class="f0 r" x="1221.5" y="2273.6">0 (0.0%)</text><text class="f0 r" x="1221.5" y="2286.8">of 2 (2.6%)</text></g>
<g id="n_rb_newobj" class="n"><rect x="388" y="2334" width="96" height="50.8"/><text class="f0 c" x="436" y="2349.5">rb_newobj</text><text class="f0 r" x="473.5" y="2362.7">0 (0.0%)</text><text class="f0 r" x="473.5" y="2375.9">of 22 (28.6%)</text></g>
<g id="n_st_lookup" class="n"><rect x="549.4" y="2325.4" width="130.3" height="69.2"/><text class="f3 c" x="614.6" y="2353">st_lookup</text><text class="f3 r" x="669.2" y="2381.2">3 (3.9%)</text></g>
<g id="n_00816c10" class="n"><rect x="938.8" y="2334.4" width="82.8" height="50.4"/><text class="f0 c" x="980.2" y="2349.7">00816c10</text><text class="f0 r" x="1011.1" y="2362.9">0 (0.0%)</text><text class="f0 r" x="1011.1" y="2376.1">of 5 (6.5%)</text></g>
<g id="n_asn1time_to_time" class="n"><rect x="1209" y="2320.5" width="176" height="78.5"/><text class="f1 c" x="1297" y="2343.6">asn1time_to_time</text><text class="f1 r" x="1374.5" y="2365.2">1 (1.3%)</text><text class="f1 r" x="1374.5" y="2386.8">of 5 (6.5%)</text></g>
<g id="n_rb_call0" class="n"><rect x="1409" y="2327.7" width="83" height="64.7"/><text class="f0 c" x="1450.5" y="2343.6">rb_call0</text><text class="f0 c" x="1450.5" y="2356.8">(inline)</text><text class="f0 r" x="1481.5" y="2370">0 (0.0%)</text><text class="f0 r" x="1481.5" y="2383.2">of 3 (3.9%)</text></g>
<g id="n_prepare_iseq_build" class="n"><rect x="1572.8" y="2334.4" width="128.1" height="50.4"/><text class="f0 c" x="1636.9" y="2349.7">prepare_iseq_build</text><text class="f0 r" x="1690.4" y="2362.9">0 (0.0%)</text><text class="f0 r" x="1690.4" y="2376.1">of 3 (3.9%)</text></g>
<g id="n_00813039" class="n"><rect x="1125" y="2423.7" width="83" height="51.3"/><text class="f0 c" x="1166.5" y="2439.5">00813039</text><text class="f0 r" x="1197.5" y="2452.7">0 (0.0%)</text><text class="f0 r" x="1197.5" y="2465.9">of 2 (2.6%)</text></g>
<g id="n_rb_newobj_from_heap" class="n"><rect x="362.8" y="2506.7" width="146.4" height="63.3"/><text class="f0 c" x="436" y="2521.9">rb_newobj_from_heap</text><text class="f0 c" x="436" y="2535.1">(inline)</text><text class="f0 r" x="498.7" y="2548.3">0 (0.0%)</text><text class="f0 r" x="498.7" y="2561.5">of 22 (28.6%)</text></g>
<g id="n_00816b29" class="n"><rect x="938.8" y="2513" width="82.8" height="51.3"/><text class="f0 c" x="980.2" y="2528.8">00816b29</text><text class="f0 r" x="1011.1" y="2542">0 (0.0%)</text><text class="f0 r" x="1011.1" y="2555.2">of 4 (5.2%)</text></g>
<g id="n_vm_call0" class="n"><rect x="1237" y="2498.7" width="120.5" height="79.9"/><text class="f1 c" x="1297.3" y="2522.5">vm_call0</text><text class="f1 r" x="1347" y="2544.1">1 (1.3%)</text><text class="f1 r" x="1347" y="2565.7">of 5 (6.5%)</text></g>
<g id="n_rb_realpath_internal" class="n"><rect x="1569" y="2513" width="136" height="51.3"/><text class="f0 c" x="1637" y="2528.8">rb_realpath_internal</text><text class="f0 r" x="1694.5" y="2542">0 (0.0%)</text><text class="f0 r" x="1694.5" y="2555.2">of 3 (3.9%)</text></g>
<g id="n_garbage_collect" class="n"><rect x="381.7" y="2650.4" width="108.5" height="50.6"/><text class="f0 c" x="436" y="2665.8">garbage_collect</text><text class="f0 r" x="479.7" y="2679">0 (0.0%)</text><text class="f0 r" x="479.7" y="2692.2">of 23 (29.9%)</text></g>
<g id="n_call_cfunc" class="n"><rect x="1255.8" y="2650.4" width="82.8" height="50.6"/><text class="f0 c" x="1297.2" y="2665.8">call_cfunc</text><text class="f0 r" x="1328.1" y="2679">0 (0.0%)</text><text class="f0 r" x="1328.1" y="2692.2">of 4 (5.2%)</text></g>
<g id="n_realpath_rec" class="n"><rect x="1592" y="2650.4" width="90.6" height="50.6"/><text class="f0 c" x="1637.3" y="2665.8">realpath_rec</text><text class="f0 r" x="1672.1" y="2679">0 (0.0%)</text><text class="f0 r" x="1672.1" y="2692.2">of 3 (3.9%)</text></g>
<g id="n_gc_sweep" class="n"><rect x="515" y="2772.8" width="130" height="101.8"/><text class="f1 c" x="580" y="2796.7">gc_sweep</text><text class="f1 c" x="580" y="2818.3">(inline)</text><text class="f1 r" x="634.5" y="2839.9">1 (1.3%)</text><text class="f1 r" x="634.5" y="2861.5">of 9 (11.7%)</text></g>
<g id="n_rb_gc_mark" class="n"><rect x="388" y="2792" width="96" height="64.3"/><text class="f0 c" x="436" y="2807.7">rb_gc_mark</text><text class="f0 c" x="436" y="2820.9">(inline)</text><text class="f0 r" x="473.5" y="2834.1">0 (0.0%)</text><text class="f0 r" x="473.5" y="2847.3">of 10 (13.0%)</text></g>
<g id="n_time_utc_or_local" class="n"><rect x="1237" y="2798.6" width="120.5" height="50.4"/><text class="f0 c" x="1297.3" y="2813.9">time_utc_or_local</text><text class="f0 r" x="1347" y="2827.1">0 (0.0%)</text><text class="f0 r" x="1347" y="2840.3">of 4 (5.2%)</text></g>
<g id="n_lstat" class="n"><rect x="1596" y="2792" width="82" height="64.3"/><text class="f0 c" x="1637" y="2807.7">lstat</text><text class="f0 c" x="1637" y="2820.9">(inline)</text><text class="f0 r" x="1667.5" y="2834.1">0 (0.0%)</text><text class="f0 r" x="1667.5" y="2847.3">of 3 (3.9%)</text></g>
<g id="n_rb_gc_mark_symbols" class="n"><rect x="121" y="2898" width="141" height="51"/><text class="f0 c" x="191.5" y="2913.6">rb_gc_mark_symbols</text><text class="f0 r" x="251.5" y="2926.8">0 (0.0%)</text><text class="f0 r" x="251.5" y="2940">of 3 (3.9%)</text></g>
<g id="n_gc_mark" class="n"><rect x="365" y="2973" width="142" height="101.8"/><text class="f1 c" x="436" y="2996.9">gc_mark</text><text class="f1 c" x="436" y="3018.5">(inline)</text><text class="f1 r" x="496.5" y="3040.1">1 (1.3%)</text><text class="f1 r" x="496.5" y="3061.7">of 14 (18.2%)</text></g>
<g id="n_obj_free" class="n"><rect x="530.4" y="2973" width="130.9" height="101.8"/><text class="f1 c" x="595.9" y="2996.9">obj_free</text><text class="f1 c" x="595.9" y="3018.5">(inline)</text><text class="f1 r" x="650.8" y="3040.1">1 (1.3%)</text><text class="f1 r" x="650.8" y="3061.7">of 8 (10.4%)</text></g>
<g id="n___lxstat64" class="n"><rect x="1567.4" y="2988.7" width="138.8" height="69.6"/><text class="f3 c" x="1636.8" y="3016.5">__lxstat64</text><text class="f3 r" x="1695.7" y="3044.7">3 (3.9%)</text></g>
<g id="n_rb_mark_tbl" class="n"><rect x="4.6" y="3098.5" width="88.4" height="50.9"/><text class="f0 c" x="48.8" y="3114.1">rb_mark_tbl</text><text class="f0 r" x="82.5" y="3127.3">0 (0.0%)</text><text class="f0 r" x="82.5" y="3140.5">of 3 (3.9%)</text></g>
<g id="n_free" class="n"><rect x="1059.8" y="3173" width="197" height="115"/><text class="f6 c" x="1158.3" y="3204.9">free</text><text class="f6 r" x="1246.3" y="3239.1">6 (7.8%)</text><text class="f6 r" x="1246.3" y="3273.3">of 9 (11.7%)</text></g>
<g id="n_gc_mark_children" class="n"><rect x="321.5" y="3181.5" width="228.5" height="98"/><text class="f3 c" x="435.8" y="3209.4">gc_mark_children</text><text class="f3 r" x="539.5" y="3237.6">3 (3.9%)</text><text class="f3 r" x="539.5" y="3265.8">of 14 (18.2%)</text></g>
<g id="n_malloc_set_state" class="n"><rect x="1054.5" y="3365.3" width="216.3" height="69"/><text class="f3 c" x="1162.7" y="3392.8">malloc_set_state</text><text class="f3 r" x="1260.3" y="3421">3 (3.9%)</text></g>
<g id="n_mark_tbl" class="n"><rect x="161.3" y="3367.7" width="96" height="64.3"/><text class="f0 c" x="209.3" y="3383.4">mark_tbl</text><text class="f0 c" x="209.3" y="3396.6">(inline)</text><text class="f0 r" x="246.8" y="3409.8">0 (0.0%)</text><text class="f0 r" x="246.8" y="3423">of 13 (16.9%)</text></g>
<g id="n_mark_hash" class="n"><rect x="281.3" y="3367.7" width="82.7" height="64.3"/><text class="f0 c" x="322.7" y="3383.4">mark_hash</text><text class="f0 c" x="322.7" y="3396.6">(inline)</text><text class="f0 r" x="353.5" y="3409.8">0 (0.0%)</text><text class="f0 r" x="353.5" y="3423">of 3 (3.9%)</text></g>
<g id="n_mark_m_tbl" class="n"><rect x="388" y="3367.7" width="96" height="64.3"/><text class="f0 c" x="436" y="3383.4">mark_m_tbl</text><text class="f0 c" x="436" y="3396.6">(inline)</text><text class="f0 r" x="473.5" y="3409.8">0 (0.0%)</text><text class="f0 r" x="473.5" y="3423">of 11 (14.3%)</text></g>
<g id="n_iseq_mark" class="n"><rect x="508" y="3374" width="82" height="50.8"/><text class="f0 c" x="549" y="3389.5">iseq_mark</text><text class="f0 r" x="579.5" y="3402.7">0 (0.0%)</text><text class="f0 r" x="579.5" y="3415.9">of 3 (3.9%)</text></g>
<g id="n_proc_mark" class="n"><rect x="615" y="3374" width="82.5" height="50.8"/><text class="f0 c" x="656.3" y="3389.5">proc_mark</text><text class="f0 r" x="687" y="3402.7">0 (0.0%)</text><text class="f0 r" x="687" y="3415.9">of 5 (6.5%)</text></g>
<g id="n_env_mark" class="n"><rect x="793.4" y="3361" width="127.6" height="78"/><text class="f1 c" x="857.2" y="3383.8">env_mark</text><text class="f1 r" x="910.5" y="3405.4">1 (1.3%)</text><text class="f1 r" x="910.5" y="3427">of 5 (6.5%)</text></g>
<g id="n_st_foreach" class="n"><rect x="150.4" y="3512.6" width="213.6" height="110.8"/><text class="f5 c" x="257.2" y="3543.3">st_foreach</text><text class="f5 r" x="353.5" y="3576.3">5 (6.5%)</text><text class="f5 r" x="353.5" y="3609.3">of 15 (19.5%)</text></g>
<g id="n_rb_gc_mark_locations" class="n"><rect x="781.3" y="3542.7" width="144" height="50.6"/><text class="f0 c" x="853.3" y="3558.1">rb_gc_mark_locations</text><text class="f0 r" x="914.8" y="3571.3">0 (0.0%)</text><text class="f0 r" x="914.8" y="3584.5">of 4 (5.2%)</text></g>
<g id="n_mark_entry" class="n"><rect x="113" y="3702.7" width="96" height="50.3"/><text class="f0 c" x="161" y="3718">mark_entry</text><text class="f0 r" x="198.5" y="3731.2">0 (0.0%)</text><text class="f0 r" x="198.5" y="3744.4">of 11 (14.3%)</text></g>
<g id="n_mark_method_entry_i" class="n"><rect x="365.7" y="3702.7" width="143.5" height="50.3"/><text class="f0 c" x="437.5" y="3718">mark_method_entry_i</text><text class="f0 r" x="498.7" y="3731.2">0 (0.0%)</text><text class="f0 r" x="498.7" y="3744.4">of 9 (11.7%)</text></g>
<g id="n_mark_keyvalue" class="n"><rect x="624" y="3702.7" width="104" height="50.3"/><text class="f0 c" x="676" y="3718">mark_keyvalue</text><text class="f0 r" x="717.5" y="3731.2">0 (0.0%)</text><text class="f0 r" x="717.5" y="3744.4">of 3 (3.9%)</text></g>
<g id="n_gc_mark_locations" class="n"><rect x="797.4" y="3695.6" width="125.2" height="64.4"/><text class="f0 c" x="860" y="3711.3">gc_mark_locations</text><text class="f0 c" x="860" y="3724.5">(inline)</text><text class="f0 r" x="912.1" y="3737.7">0 (0.0%)</text><text class="f0 r" x="912.1" y="3750.9">of 5 (6.5%)</text></g>
<g id="n_mark_method_entry" class="n"><rect x="437.4" y="3832" width="234.2" height="117.4"/><text class="f2 c" x="554.5" y="3859.2">mark_method_entry</text><text class="f2 c" x="554.5" y="3884.4">(inline)</text><text class="f2 r" x="661.1" y="3909.6">2 (2.6%)</text><text class="f2 r" x="661.1" y="3934.8">of 9 (11.7%)</text></g>
<g id="n_mark_locations_array" class="n"><rect x="734.8" y="3832" width="250.2" height="117.4"/><text class="f2 c" x="859.9" y="3859.2">mark_locations_array</text><text class="f2 c" x="859.9" y="3884.4">(inline)</text><text class="f2 r" x="974.5" y="3909.6">2 (2.6%)</text><text class="f2 r" x="974.5" y="3934.8">of 5 (6.5%)</text></g>
</g>
</svg>
